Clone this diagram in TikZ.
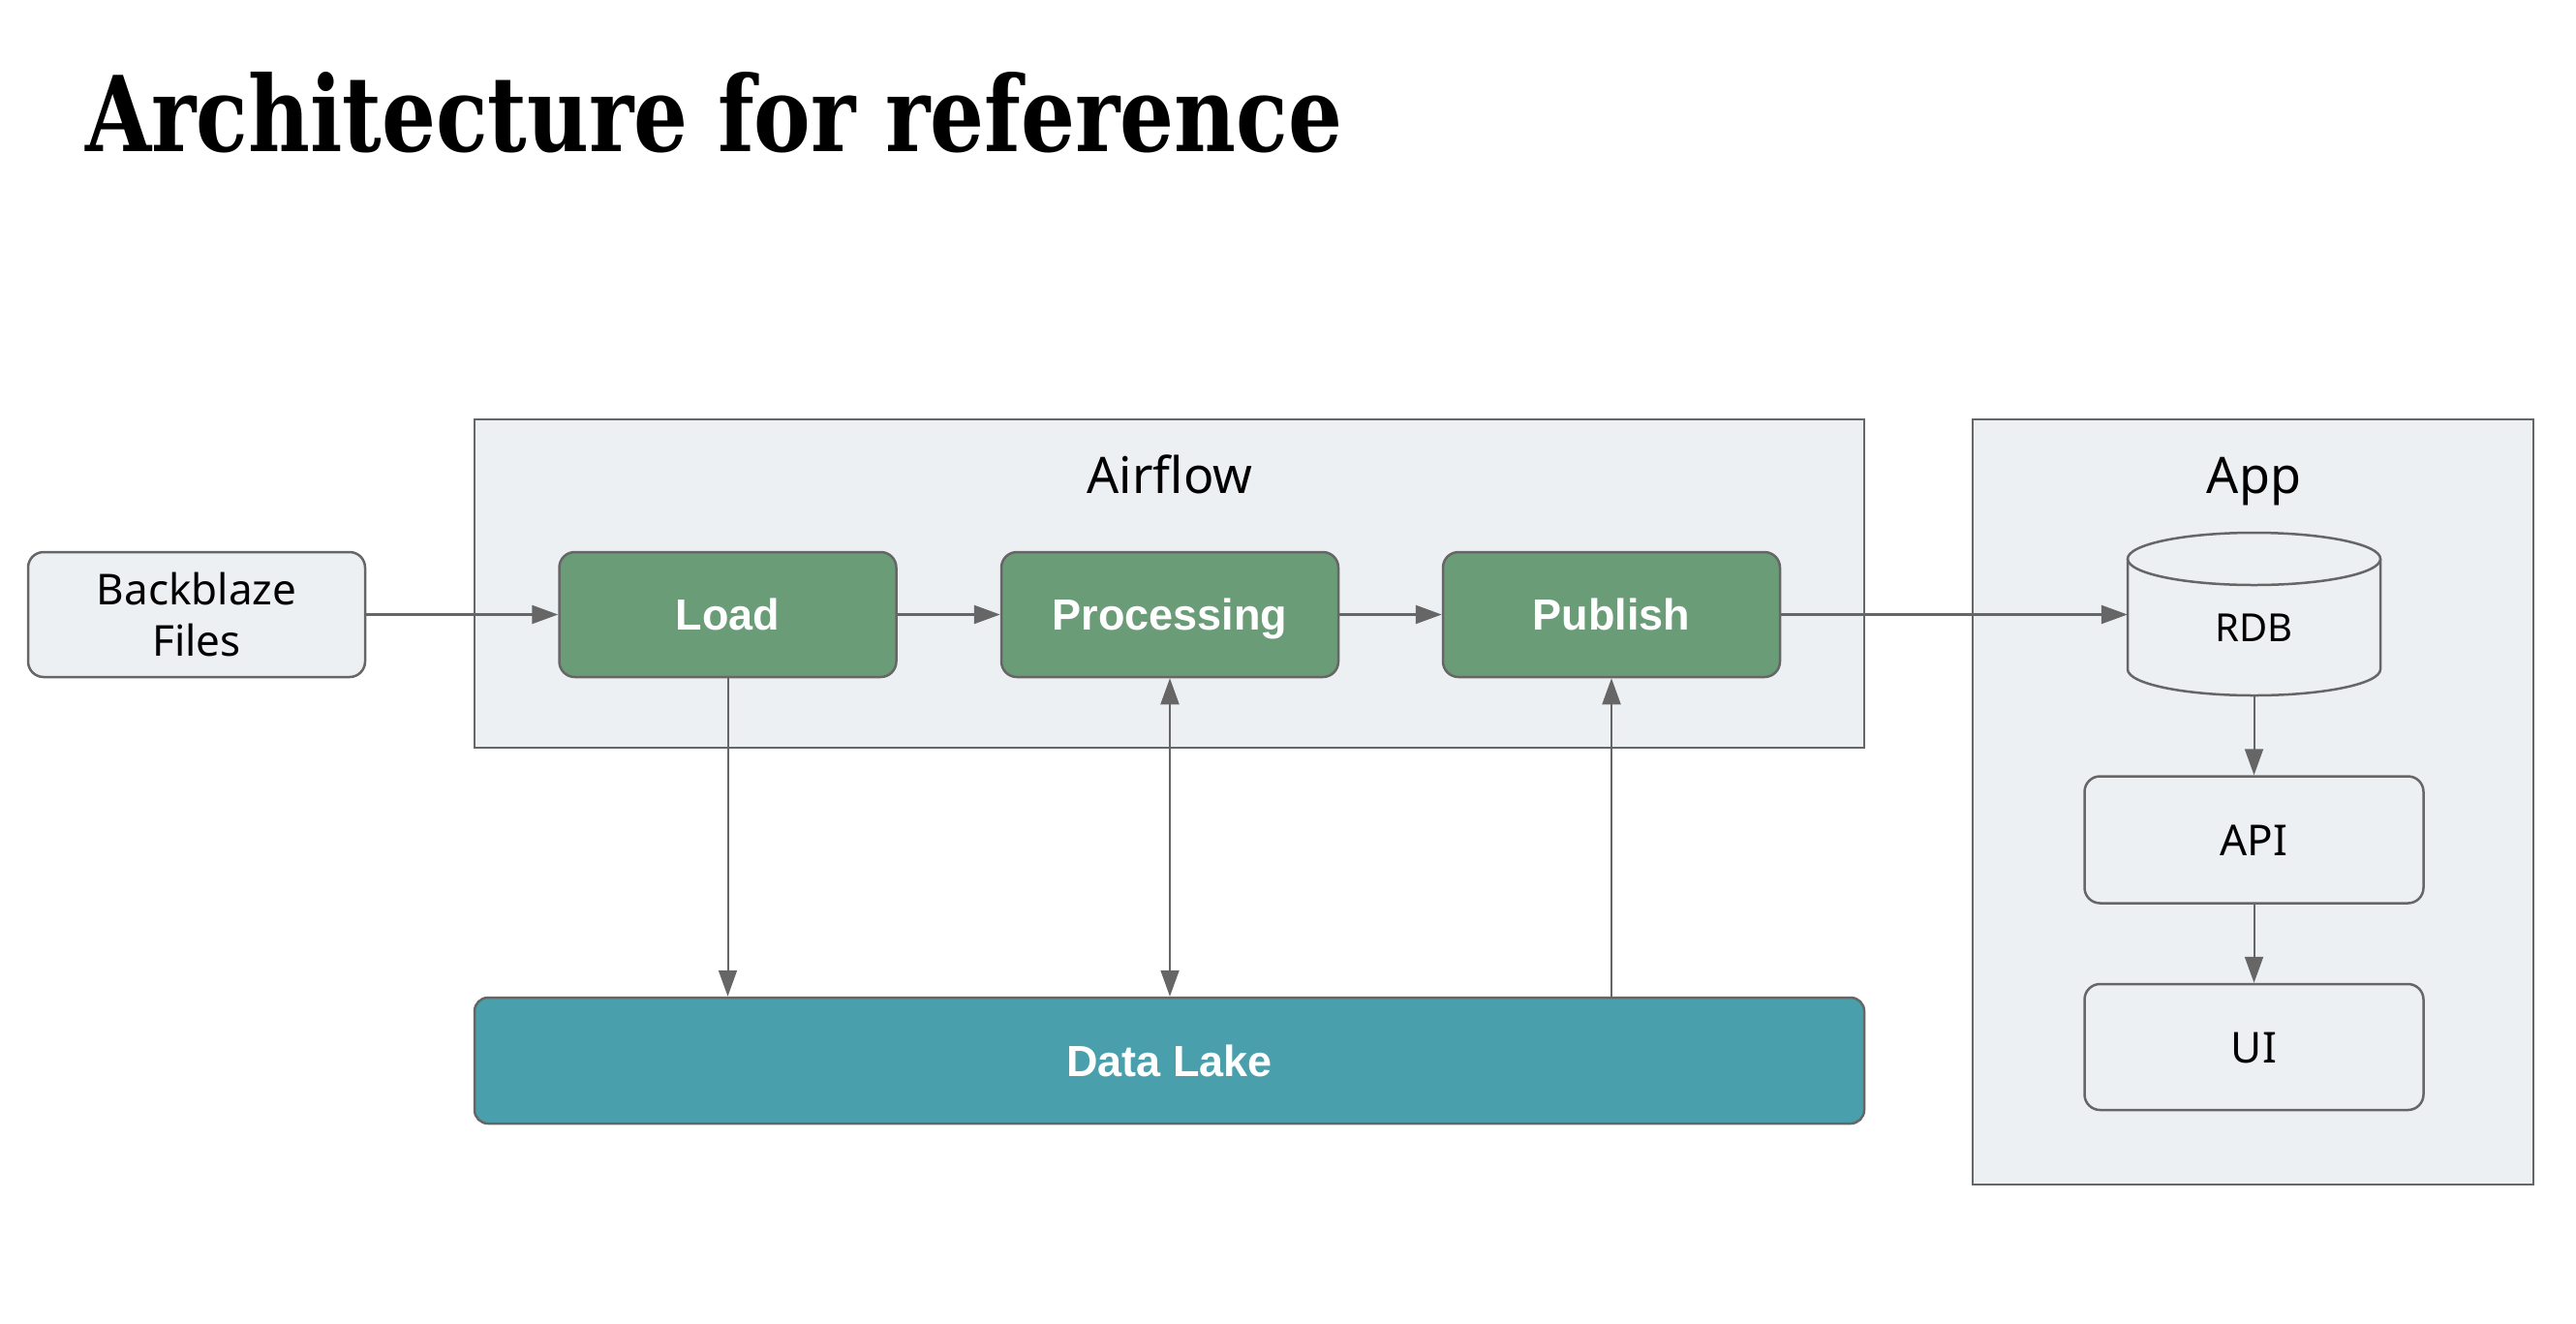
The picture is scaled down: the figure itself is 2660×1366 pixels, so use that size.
\documentclass[tikz,border=0pt]{standalone}
\usepackage{graphicx}
\usepackage{fontspec}
\setmainfont{Noto Sans}
\newfontfamily\titlefont{DejaVu Serif}
\newfontfamily\boldsans{Liberation Sans}
\usetikzlibrary{arrows.meta}
\definecolor{lnc}{HTML}{666666}
\definecolor{boxbg}{HTML}{EDF0F3}
\definecolor{grn}{HTML}{6B9C78}
\definecolor{lakec}{HTML}{49A0AC}
\begin{document}
\begin{tikzpicture}[x=1pt,y=-1pt,
  group/.style={draw=lnc, fill=boxbg, line width=2.5pt},
  grouplbl/.style={inner sep=0pt, font=\fontsize{52}{60}\selectfont, text height=37pt, text depth=0pt},
  light/.style={draw=lnc, fill=boxbg, line width=2.5pt, rounded corners=16pt, minimum width=348pt, minimum height=129pt, inner sep=0pt, font=\fontsize{44}{53}\selectfont, text=black},
  task/.style={light, fill=grn, text=white, font=\fontsize{45}{53}\boldsans\bfseries, text height=32pt, text depth=0pt},
  arr/.style={draw=lnc, line width=2.5pt, -{Triangle[length=27pt,width=19pt]}},
  varr/.style={arr, line width=2pt}
]
\fill[white] (0,0) rectangle (2660,1366);
\useasboundingbox (0,0) rectangle (2660,1366);

\node[anchor=base west, inner sep=0pt] (title) at (88,156) {\resizebox{1298pt}{82pt}{\titlefont\bfseries Architecture for reference}};

% groups
\draw[group] (490,433) rectangle (1925,772);
\draw[group] (2037,433) rectangle (2616,1223);
\node[grouplbl] (airflowlbl) at (1208,490.5) {Airflow};
\node[grouplbl] (applbl) at (2327.5,490.5) {App};

% nodes
\node[light, align=center] (bb) at (203,634.5) {Backblaze\\Files};
\node[task] (load) at (751.5,634.5) {Load};
\node[task] (proc) at (1208,634.5) {Processing};
\node[task] (pub) at (1664,634.5) {Publish};
\node[task, fill=lakec, minimum width=1435pt, minimum height=130pt, rounded corners=14pt] (lake) at (1207.5,1095) {Data Lake};

% RDB cylinder
\fill[boxbg] (2197,577) -- (2197,691) arc(180:360:130.5pt and 27pt) -- (2458,577) arc(0:180:130.5pt and 27pt) -- cycle;
\draw[lnc, line width=2.5pt] (2197,577) -- (2197,691) arc(180:360:130.5pt and 27pt) -- (2458,577);
\draw[lnc, line width=2.5pt] (2327.5,577) ellipse (130.5pt and 27pt);
\node[minimum width=261pt, minimum height=168pt, inner sep=0pt] (rdb) at (2327.5,634) {};
\node[inner sep=0pt, font=\fontsize{40}{48}\selectfont, text height=29pt, text depth=0pt] (rdbtxt) at (2327.5,647.5) {RDB};

\node[light, minimum width=350pt, minimum height=131pt, text height=32pt, text depth=0pt] (api) at (2327.5,867) {API};
\node[light, minimum width=350pt, minimum height=130pt, text height=32pt, text depth=0pt] (ui) at (2327.5,1081) {UI};

% connectors
\draw[arr] (bb.east) -- (load.west);
\draw[arr] (load.east) -- (proc.west);
\draw[arr] (proc.east) -- (pub.west);
\draw[arr] (pub.east) -- (pub.east -| rdb.west);
\draw[varr] (load.south) -- (load.south |- lake.north);
\draw[varr, {Triangle[length=27pt,width=19pt]}-{Triangle[length=27pt,width=19pt]}] (proc.south) -- (proc.south |- lake.north);
\draw[varr] (pub.south |- lake.north) -- (pub.south);
\draw[varr] (rdb.south) -- (api.north);
\draw[varr] (api.south) -- (ui.north);
\end{tikzpicture}
\end{document}
